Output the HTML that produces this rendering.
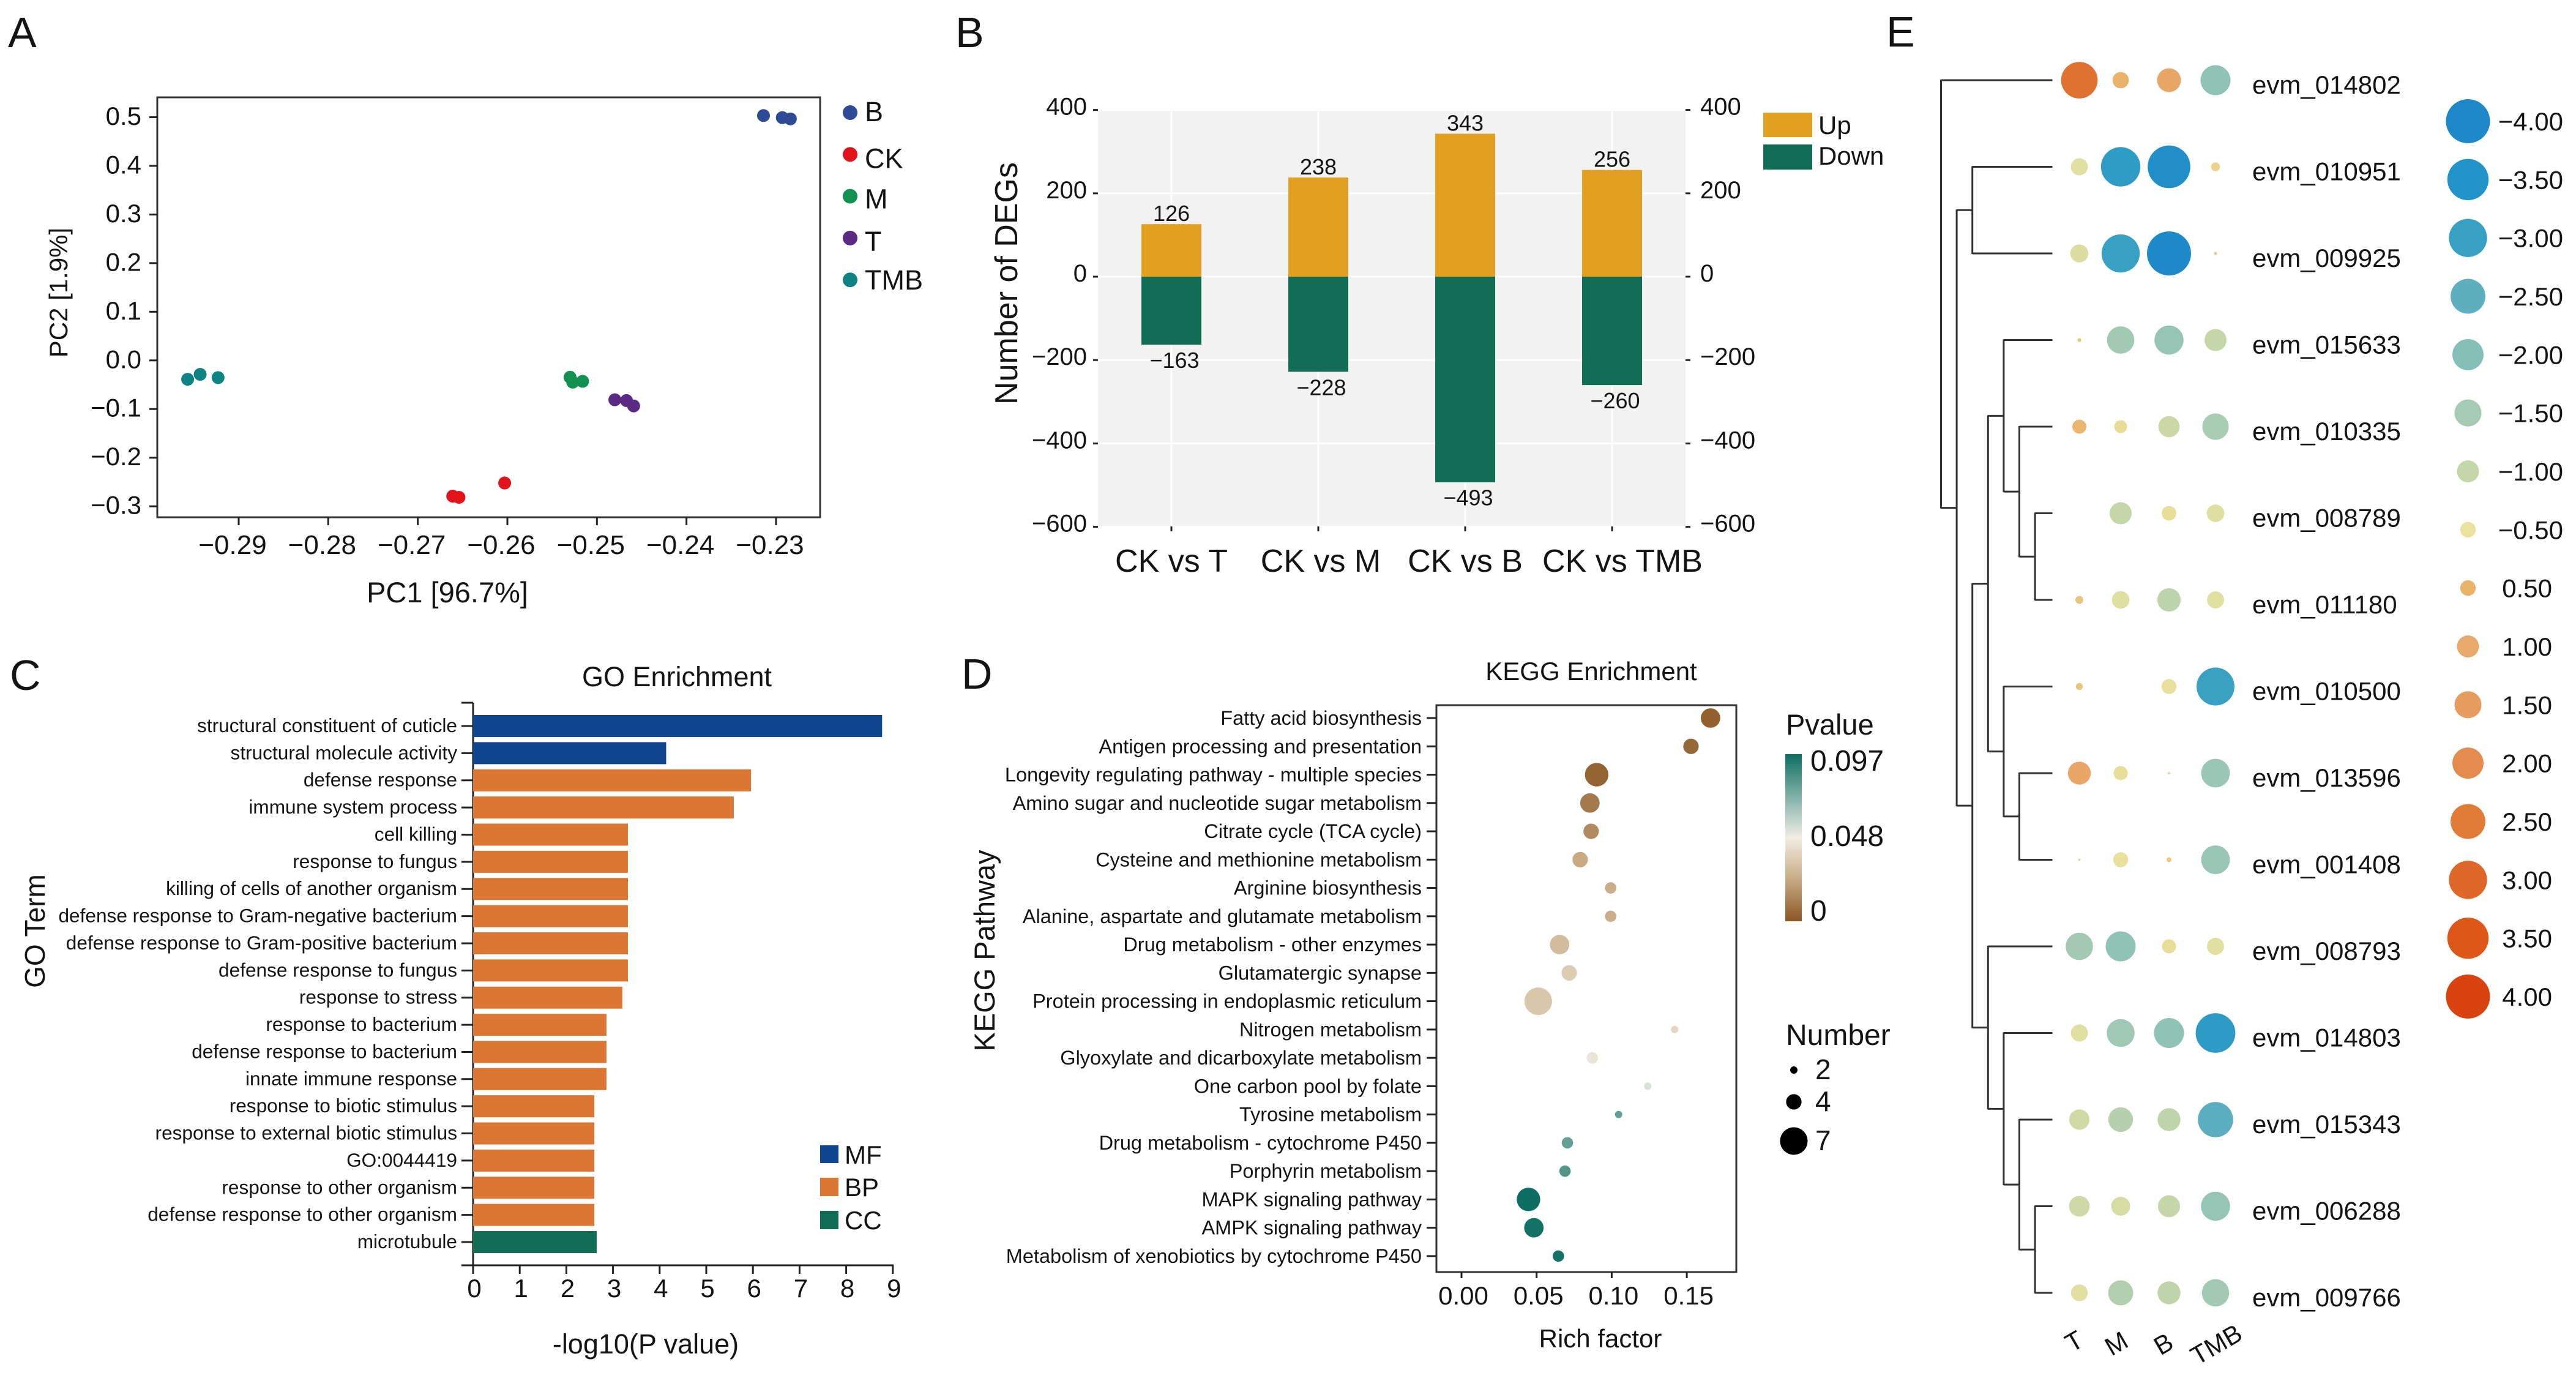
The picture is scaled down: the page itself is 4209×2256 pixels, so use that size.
<!DOCTYPE html>
<html lang="en">
<head>
<meta charset="utf-8">
<title>Multi-panel transcriptome figure</title>
<style>
html,body{margin:0;padding:0;background:#fff;}
svg{display:block;}
text{font-family:"Liberation Sans",Arial,sans-serif;fill:#141414;}
.letter{font-size:70px;}
</style>
</head>
<body>
<svg id="fig" xmlns="http://www.w3.org/2000/svg" width="4209" height="2256" viewBox="0 0 4209 2256">
<rect x="0" y="0" width="4209" height="2256" fill="#ffffff"/>
<defs>
<linearGradient id="pgrad" x1="0" y1="1" x2="0" y2="0">
<stop offset="0" stop-color="#8A5623"/><stop offset="0.25" stop-color="#C8AB85"/><stop offset="0.5" stop-color="#F1EDE3"/><stop offset="0.75" stop-color="#7FB0A7"/><stop offset="1" stop-color="#0E6E62"/>
</linearGradient>
</defs>

<text class="letter" x="13" y="77">A</text>
<text class="letter" x="1561" y="77">B</text>
<text class="letter" x="16" y="1127">C</text>
<text class="letter" x="1571" y="1125">D</text>
<text class="letter" x="3082" y="76">E</text>

<g id="panelA">
<rect x="257" y="159" width="1083" height="686" fill="none" stroke="#333" stroke-width="3"/>
<text x="731" y="984" font-size="47" text-anchor="middle">PC1 [96.7%]</text>
<text transform="translate(110,478) rotate(-90)" font-size="42" text-anchor="middle">PC2 [1.9%]</text>
</g>

<g id="panelB">
<rect x="1794" y="179" width="960" height="681" fill="#f2f2f2"/>
<text transform="translate(1662,463) rotate(-90)" font-size="52" text-anchor="middle">Number of DEGs</text>
<rect x="2881" y="184" width="80" height="40" fill="#E1A01F"/>
<rect x="2881" y="236" width="80" height="41" fill="#116E54"/>
<text x="2971" y="219" font-size="42">Up</text>
<text x="2971" y="269" font-size="42">Down</text>
</g>

<g id="panelC">
<text x="1106" y="1121" font-size="45" text-anchor="middle">GO Enrichment</text>
<text transform="translate(73,1521) rotate(-90)" font-size="46" text-anchor="middle">GO Term</text>
<text x="1055" y="2211" font-size="45" text-anchor="middle">-log10(P value)</text>
<rect x="1340" y="1871" width="30" height="29" fill="#10458F"/>
<rect x="1340" y="1924" width="30" height="30" fill="#DB7733"/>
<rect x="1340" y="1978" width="30" height="30" fill="#116E54"/>
<text x="1380" y="1901" font-size="42">MF</text>
<text x="1380" y="1954" font-size="42">BP</text>
<text x="1380" y="2008" font-size="42">CC</text>
<line x1="773" y1="1148" x2="773" y2="2067" stroke="#222" stroke-width="3"/>
<line x1="754" y1="2067" x2="1460" y2="2067" stroke="#222" stroke-width="3"/>
<line x1="754" y1="1148" x2="773" y2="1148" stroke="#222" stroke-width="3"/>
</g>

<g id="panelD">
<rect x="2347" y="1152" width="490" height="926" fill="none" stroke="#333" stroke-width="3"/>
<text x="2600" y="1111" font-size="42" text-anchor="middle">KEGG Enrichment</text>
<text transform="translate(1625,1553) rotate(-90)" font-size="47" text-anchor="middle">KEGG Pathway</text>
<text x="2615" y="2201" font-size="42" text-anchor="middle">Rich factor</text>
<text x="2918" y="1200" font-size="47">Pvalue</text>
<rect x="2917" y="1232" width="27" height="273" fill="url(#pgrad)"/>
<text x="2958" y="1259" font-size="48">0.097</text>
<text x="2958" y="1382" font-size="48">0.048</text>
<text x="2958" y="1504" font-size="48">0</text>
<text x="2918" y="1707" font-size="48">Number</text>
</g>

<g id="panelE"></g>
</svg>

<script>
/* ---------- Panel A data ---------- */
const pcaGroups = ['B','CK','M','T','TMB'];
const pcaColors = ['#2F4B96','#E1141C','#129150','#5A2A84','#0E8383'];
const pcaPc1 = [
  [-0.2314,-0.2293,-0.2284],
  [-0.2661,-0.2654,-0.2603],
  [-0.2530,-0.2527,-0.2516],
  [-0.2480,-0.2467,-0.2459],
  [-0.2957,-0.2943,-0.2923]
];
const pcaPc2 = [
  [0.5034,0.4992,0.4966],
  [-0.2791,-0.2816,-0.2521],
  [-0.0346,-0.0447,-0.0430],
  [-0.0809,-0.0826,-0.0936],
  [-0.0388,-0.0287,-0.0354]
];
const pcaXTicks = [-0.29,-0.28,-0.27,-0.26,-0.25,-0.24,-0.23];
const pcaYTicks = [0.5,0.4,0.3,0.2,0.1,0.0,-0.1,-0.2,-0.3];

/* ---------- Panel B data ---------- */
const degCategories = ['CK vs T','CK vs M','CK vs B','CK vs TMB'];
const degUp = [126,238,343,256];
const degDown = [-163,-228,-493,-260];
const degTicks = [400,200,0,-200,-400,-600];

/* ---------- Panel C data ---------- */
const goTerms = ['structural constituent of cuticle','structural molecule activity','defense response','immune system process','cell killing','response to fungus','killing of cells of another organism','defense response to Gram-negative bacterium','defense response to Gram-positive bacterium','defense response to fungus','response to stress','response to bacterium','defense response to bacterium','innate immune response','response to biotic stimulus','response to external biotic stimulus','GO:0044419','response to other organism','defense response to other organism','microtubule'];
const goValues = [8.77,4.14,5.96,5.59,3.32,3.32,3.32,3.32,3.32,3.32,3.20,2.86,2.86,2.86,2.60,2.60,2.60,2.60,2.60,2.65];
const goClasses = ['MF','MF','BP','BP','BP','BP','BP','BP','BP','BP','BP','BP','BP','BP','BP','BP','BP','BP','BP','CC'];
const goTicks = [0,1,2,3,4,5,6,7,8,9];

/* ---------- Panel D data ---------- */
const keggPathways = ['Fatty acid biosynthesis','Antigen processing and presentation','Longevity regulating pathway - multiple species','Amino sugar and nucleotide sugar metabolism','Citrate cycle (TCA cycle)','Cysteine and methionine metabolism','Arginine biosynthesis','Alanine, aspartate and glutamate metabolism','Drug metabolism - other enzymes','Glutamatergic synapse','Protein processing in endoplasmic reticulum','Nitrogen metabolism','Glyoxylate and dicarboxylate metabolism','One carbon pool by folate','Tyrosine metabolism','Drug metabolism - cytochrome P450','Porphyrin metabolism','MAPK signaling pathway','AMPK signaling pathway','Metabolism of xenobiotics by cytochrome P450'];
const keggRich = [0.1658,0.1528,0.0900,0.0855,0.0863,0.0790,0.0993,0.0993,0.0653,0.0717,0.0511,0.1419,0.0871,0.1240,0.1046,0.0705,0.0689,0.0446,0.0482,0.0645];
const keggNumber = [5,4,6,5,4,4,3,3,5,4,7,2,3,2,2,3,3,6,5,3];
const keggP = [0.003,0.005,0.004,0.010,0.015,0.024,0.025,0.025,0.030,0.036,0.034,0.040,0.045,0.053,0.078,0.078,0.082,0.097,0.096,0.096];
const keggTicks = [0,0.05,0.10,0.15];
const keggNumberLegend = [2,4,7];

/* ---------- Panel E data ---------- */
const heatGenes = ['evm_014802','evm_010951','evm_009925','evm_015633','evm_010335','evm_008789','evm_011180','evm_010500','evm_013596','evm_001408','evm_008793','evm_014803','evm_015343','evm_006288','evm_009766'];
const heatSamples = ['T','M','B','TMB'];
const heatT = [2.75,-0.60,-0.67,0.03,0.41,0,0.13,0.10,1.08,0.01,-1.54,-0.60,-0.85,-0.88,-0.58];
const heatM = [0.55,-3.20,-3.00,-1.54,-0.34,-1.00,-0.64,0,-0.41,-0.46,-1.85,-1.60,-1.25,-0.74,-1.30];
const heatB = [1.17,-3.75,-4.00,-1.74,-0.92,-0.44,-1.12,-0.46,0.01,0.05,-0.41,-1.85,-1.08,-1.00,-1.08];
const heatTMB = [-1.85,-0.16,-0.02,-1.00,-1.44,-0.64,-0.60,-2.96,-1.69,-1.69,-0.60,-3.24,-2.56,-1.74,-1.54];
const heatLegendValues = [-4,-3.5,-3,-2.5,-2,-1.5,-1,-0.5,0.5,1,1.5,2,2.5,3,3.5,4];
const heatLegendLabels = ['−4.00','−3.50','−3.00','−2.50','−2.00','−1.50','−1.00','−0.50','0.50','1.00','1.50','2.00','2.50','3.00','3.50','4.00'];
const heatLegendColors = ['#1E88C9','#2195C8','#38A0C3','#5FB0BE','#85BFB7','#A5CBB3','#C5D6A8','#E8E29E','#E9B469','#E8A96A','#E59C5E','#E38C4E','#E17B38','#DE6829','#DC5718','#D9430F'];
const geneTree = [0,[[1,2],[[[3,[4,[5,6]]],[7,[8,9]]],[10,[11,[12,[13,14]]]]]]];

const NS = 'http://www.w3.org/2000/svg';
function mk(tag, attrs, parent, txt){
  const el = document.createElementNS(NS, tag);
  for (const k in attrs) el.setAttribute(k, attrs[k]);
  if (txt !== undefined) el.textContent = txt;
  parent.appendChild(el);
  return el;
}
function slug(s){ return String(s).toLowerCase().replace(/[^a-z0-9]+/g,'-').replace(/^-|-$/g,''); }
function hex(c){ return [1,3,5].map(i=>parseInt(c.substr(i,2),16)); }
function lerpColor(a,b,t){
  const A=hex(a),B=hex(b);
  return 'rgb('+A.map((v,i)=>Math.round(v+(B[i]-v)*t)).join(',')+')';
}
function ramp(v,xs,cs){
  if (v<=xs[0]) return cs[0];
  for (let i=1;i<xs.length;i++){
    if (v<=xs[i]) return lerpColor(cs[i-1],cs[i],(v-xs[i-1])/(xs[i]-xs[i-1]));
  }
  return cs[cs.length-1];
}
const minusFmt = s => String(s).replace('-','−');

/* ---------- Panel A ---------- */
const gA = document.getElementById('panelA');
const xA = v => 390 + (v + 0.29) * 14633;
const yA = v => 191.5 + (0.5 - v) * 794.5;
pcaXTicks.forEach(t=>{
  const tk = mk('line',{x1:xA(t),x2:xA(t),y1:845,y2:858,stroke:'#222','stroke-width':3},gA);
  
  
  const lb = mk('text',{x:xA(t)-10,y:905,'font-size':44,'text-anchor':'middle'},gA,minusFmt(t.toFixed(2)));
  
  
});
pcaYTicks.forEach(t=>{
  const tk = mk('line',{x1:244,x2:257,y1:yA(t),y2:yA(t),stroke:'#222','stroke-width':3},gA);
  
  
  const lb = mk('text',{x:231,y:yA(t)+12.5,'font-size':42,'text-anchor':'end'},gA,minusFmt(t.toFixed(1)));
  
  
});
const pcaLegendLabelShift = [-2,6,4,5,0];
pcaGroups.forEach((g,i)=>{
  pcaPc1[i].forEach((v,j)=>{
    const pt = mk('circle',{cx:xA(v),cy:yA(pcaPc2[i][j]),r:10.5,fill:pcaColors[i]},gA);
    
    
  });
  const ly = 184 + i*68.3;
  const dot = mk('circle',{cx:1389,cy:ly,r:12,fill:pcaColors[i]},gA);
  
  
  const lb = mk('text',{x:1413,y:ly+16+pcaLegendLabelShift[i],'font-size':45},gA,g);
  
  
});

/* ---------- Panel B ---------- */
const gB = document.getElementById('panelB');
const yB = v => 452 - v * 0.681;
const xB = i => 1914 + i * 240;
degTicks.forEach(t=>{
  const gl = mk('line',{x1:1794,x2:2754,y1:yB(t),y2:yB(t),stroke:'#fff','stroke-width':3},gB);
  
  
  const l = mk('line',{x1:1786,x2:1794,y1:yB(t),y2:yB(t),stroke:'#222','stroke-width':3},gB);
  
  
  const r = mk('line',{x1:2754,x2:2762,y1:yB(t),y2:yB(t),stroke:'#222','stroke-width':3},gB);
  
  
  const a = mk('text',{x:1776,y:yB(t)+8,'font-size':40,'text-anchor':'end'},gB,minusFmt(t));
  
  
  const b = mk('text',{x:2778,y:yB(t)+8,'font-size':40},gB,minusFmt(t));
  
  
});
degCategories.forEach((c,i)=>{
  const x = xB(i), w = 98;
  const gl = mk('line',{x1:x,x2:x,y1:179,y2:860,stroke:'#fff','stroke-width':3},gB);
  
  
  const tk = mk('line',{x1:x,x2:x,y1:860,y2:868,stroke:'#222','stroke-width':3},gB);
  
  
  const up = mk('rect',{x:x-w/2,y:yB(degUp[i]),width:w,height:yB(0)-yB(degUp[i]),fill:'#E1A01F'},gB);
  
  
  const dn = mk('rect',{x:x-w/2,y:yB(0),width:w,height:yB(degDown[i])-yB(0),fill:'#116E54'},gB);
  
  
  const ul = mk('text',{x:x,y:yB(degUp[i])-5,'font-size':36,'text-anchor':'middle'},gB,degUp[i]);
  
  
  const dl = mk('text',{x:x+5,y:yB(degDown[i])+38,'font-size':36,'text-anchor':'middle'},gB,minusFmt(degDown[i]));
  
  
  const cl = mk('text',{x:x+(i===1?4:i===3?17:0),y:934,'font-size':52,'text-anchor':'middle'},gB,c);
  
  
});

/* ---------- Panel C ---------- */
const gC = document.getElementById('panelC');
const xC = v => 773 + v * 76.2;
const yC = i => 1186 + i * 44.37;
const goClassColor = {MF:'#10458F',BP:'#DB7733',CC:'#116E54'};
goTerms.forEach((t,i)=>{
  const bar = mk('rect',{x:xC(0),y:yC(i)-18,width:xC(goValues[i])-xC(0),height:36,fill:goClassColor[goClasses[i]]},gC);
  
  
  const tk = mk('line',{x1:754,x2:773,y1:yC(i),y2:yC(i),stroke:'#222','stroke-width':3},gC);
  
  
  const lb = mk('text',{x:747,y:yC(i)+10,'font-size':31.6,'text-anchor':'end'},gC,t);
  
  
});
goTicks.forEach(t=>{
  const tk = mk('line',{x1:xC(t),x2:xC(t),y1:2067,y2:2081,stroke:'#222','stroke-width':3},gC);
  
  
  const lb = mk('text',{x:xC(t)+2,y:2119,'font-size':42,'text-anchor':'middle'},gC,t);
  
  
});

/* ---------- Panel D ---------- */
const gD = document.getElementById('panelD');
const xD = v => 2388 + v * 2454;
const yD = i => 1173 + i * 46.26;
const rD = n => 6 + (n - 2) * 3.3;
const pStops = [0,0.024,0.048,0.072,0.097];
const pColors = ['#8A5623','#C8AB85','#F1EDE3','#7FB0A7','#0E6E62'];
keggPathways.forEach((p,i)=>{
  const tk = mk('line',{x1:2331,x2:2347,y1:yD(i),y2:yD(i),stroke:'#222','stroke-width':3},gD);
  
  
  const lb = mk('text',{x:2323,y:yD(i)+11,'font-size':32.5,'text-anchor':'end'},gD,p);
  
  
  const pt = mk('circle',{cx:xD(keggRich[i]),cy:yD(i),r:rD(keggNumber[i]),fill:ramp(keggP[i],pStops,pColors)},gD);
  
  
});
keggTicks.forEach(t=>{
  const tk = mk('line',{x1:xD(t),x2:xD(t),y1:2078,y2:2088,stroke:'#222','stroke-width':3},gD);
  
  
  const lb = mk('text',{x:xD(t)+3,y:2131,'font-size':42,'text-anchor':'middle'},gD,t.toFixed(2));
  
  
});
const numberLegendY = [1748,1800,1864];
keggNumberLegend.forEach((n,i)=>{
  const dot = mk('circle',{cx:2931,cy:numberLegendY[i],r:rD(n),fill:'#000'},gD);
  
  
  const lb = mk('text',{x:2966,y:numberLegendY[i]+15,'font-size':46},gD,n);
  
  
});

/* ---------- Panel E ---------- */
const gE = document.getElementById('panelE');
const colX = [3397.5,3465,3544,3620];
const rowY = i => 131 + i * 141.5;
const rE = v => 18 * Math.sqrt(Math.abs(v));
const colorE = v => ramp(v,heatLegendValues,heatLegendColors);
const heatSeries = [heatT,heatM,heatB,heatTMB];
const treeX = d => 3171.5 + d * 25.6;
function drawTree(node,depth){
  if (typeof node === 'number') return {y:rowY(node),leaf:true};
  const a = drawTree(node[0],depth+1), b = drawTree(node[1],depth+1);
  const x = treeX(depth);
  const v = mk('line',{x1:x,x2:x,y1:a.y-1,y2:b.y+1,stroke:'#333','stroke-width':3},gE);
  
  
  [a,b].forEach(c=>{
    const x2 = c.leaf ? 3353.5 : treeX(depth+1);
    const h = mk('line',{x1:x,x2:x2,y1:c.y,y2:c.y,stroke:'#333','stroke-width':3},gE);
    
    
  });
  return {y:(a.y+b.y)/2,leaf:false};
}
drawTree(geneTree,0);
heatGenes.forEach((g,i)=>{
  const lb = mk('text',{x:3680,y:rowY(i)+22,'font-size':42},gE,g);
  
  
  heatSeries.forEach((s,j)=>{
    if (s[i] === 0) return;
    const c = mk('circle',{cx:colX[j],cy:rowY(i),r:rE(s[i]),fill:colorE(s[i])},gE);
    
    
  });
});
const sampleLabelX = [3385,3450,3530,3590];
const sampleLabelY = [2210,2216,2215,2231];
heatSamples.forEach((s,j)=>{
  const lb = mk('text',{transform:'translate('+sampleLabelX[j]+','+sampleLabelY[j]+') rotate(-30)','font-size':42},gE,s);
  
  
});
heatLegendValues.forEach((v,i)=>{
  const y = 198 + i * 95.33;
  const c = mk('circle',{cx:4032.5,cy:y,r:rE(v),fill:heatLegendColors[i]},gE);
  
  
  const lb = mk('text',{x:v<0?4188:4170,y:y+15,'font-size':42,'text-anchor':'end'},gE,heatLegendLabels[i]);
  
  
});
</script>
</body>
</html>
